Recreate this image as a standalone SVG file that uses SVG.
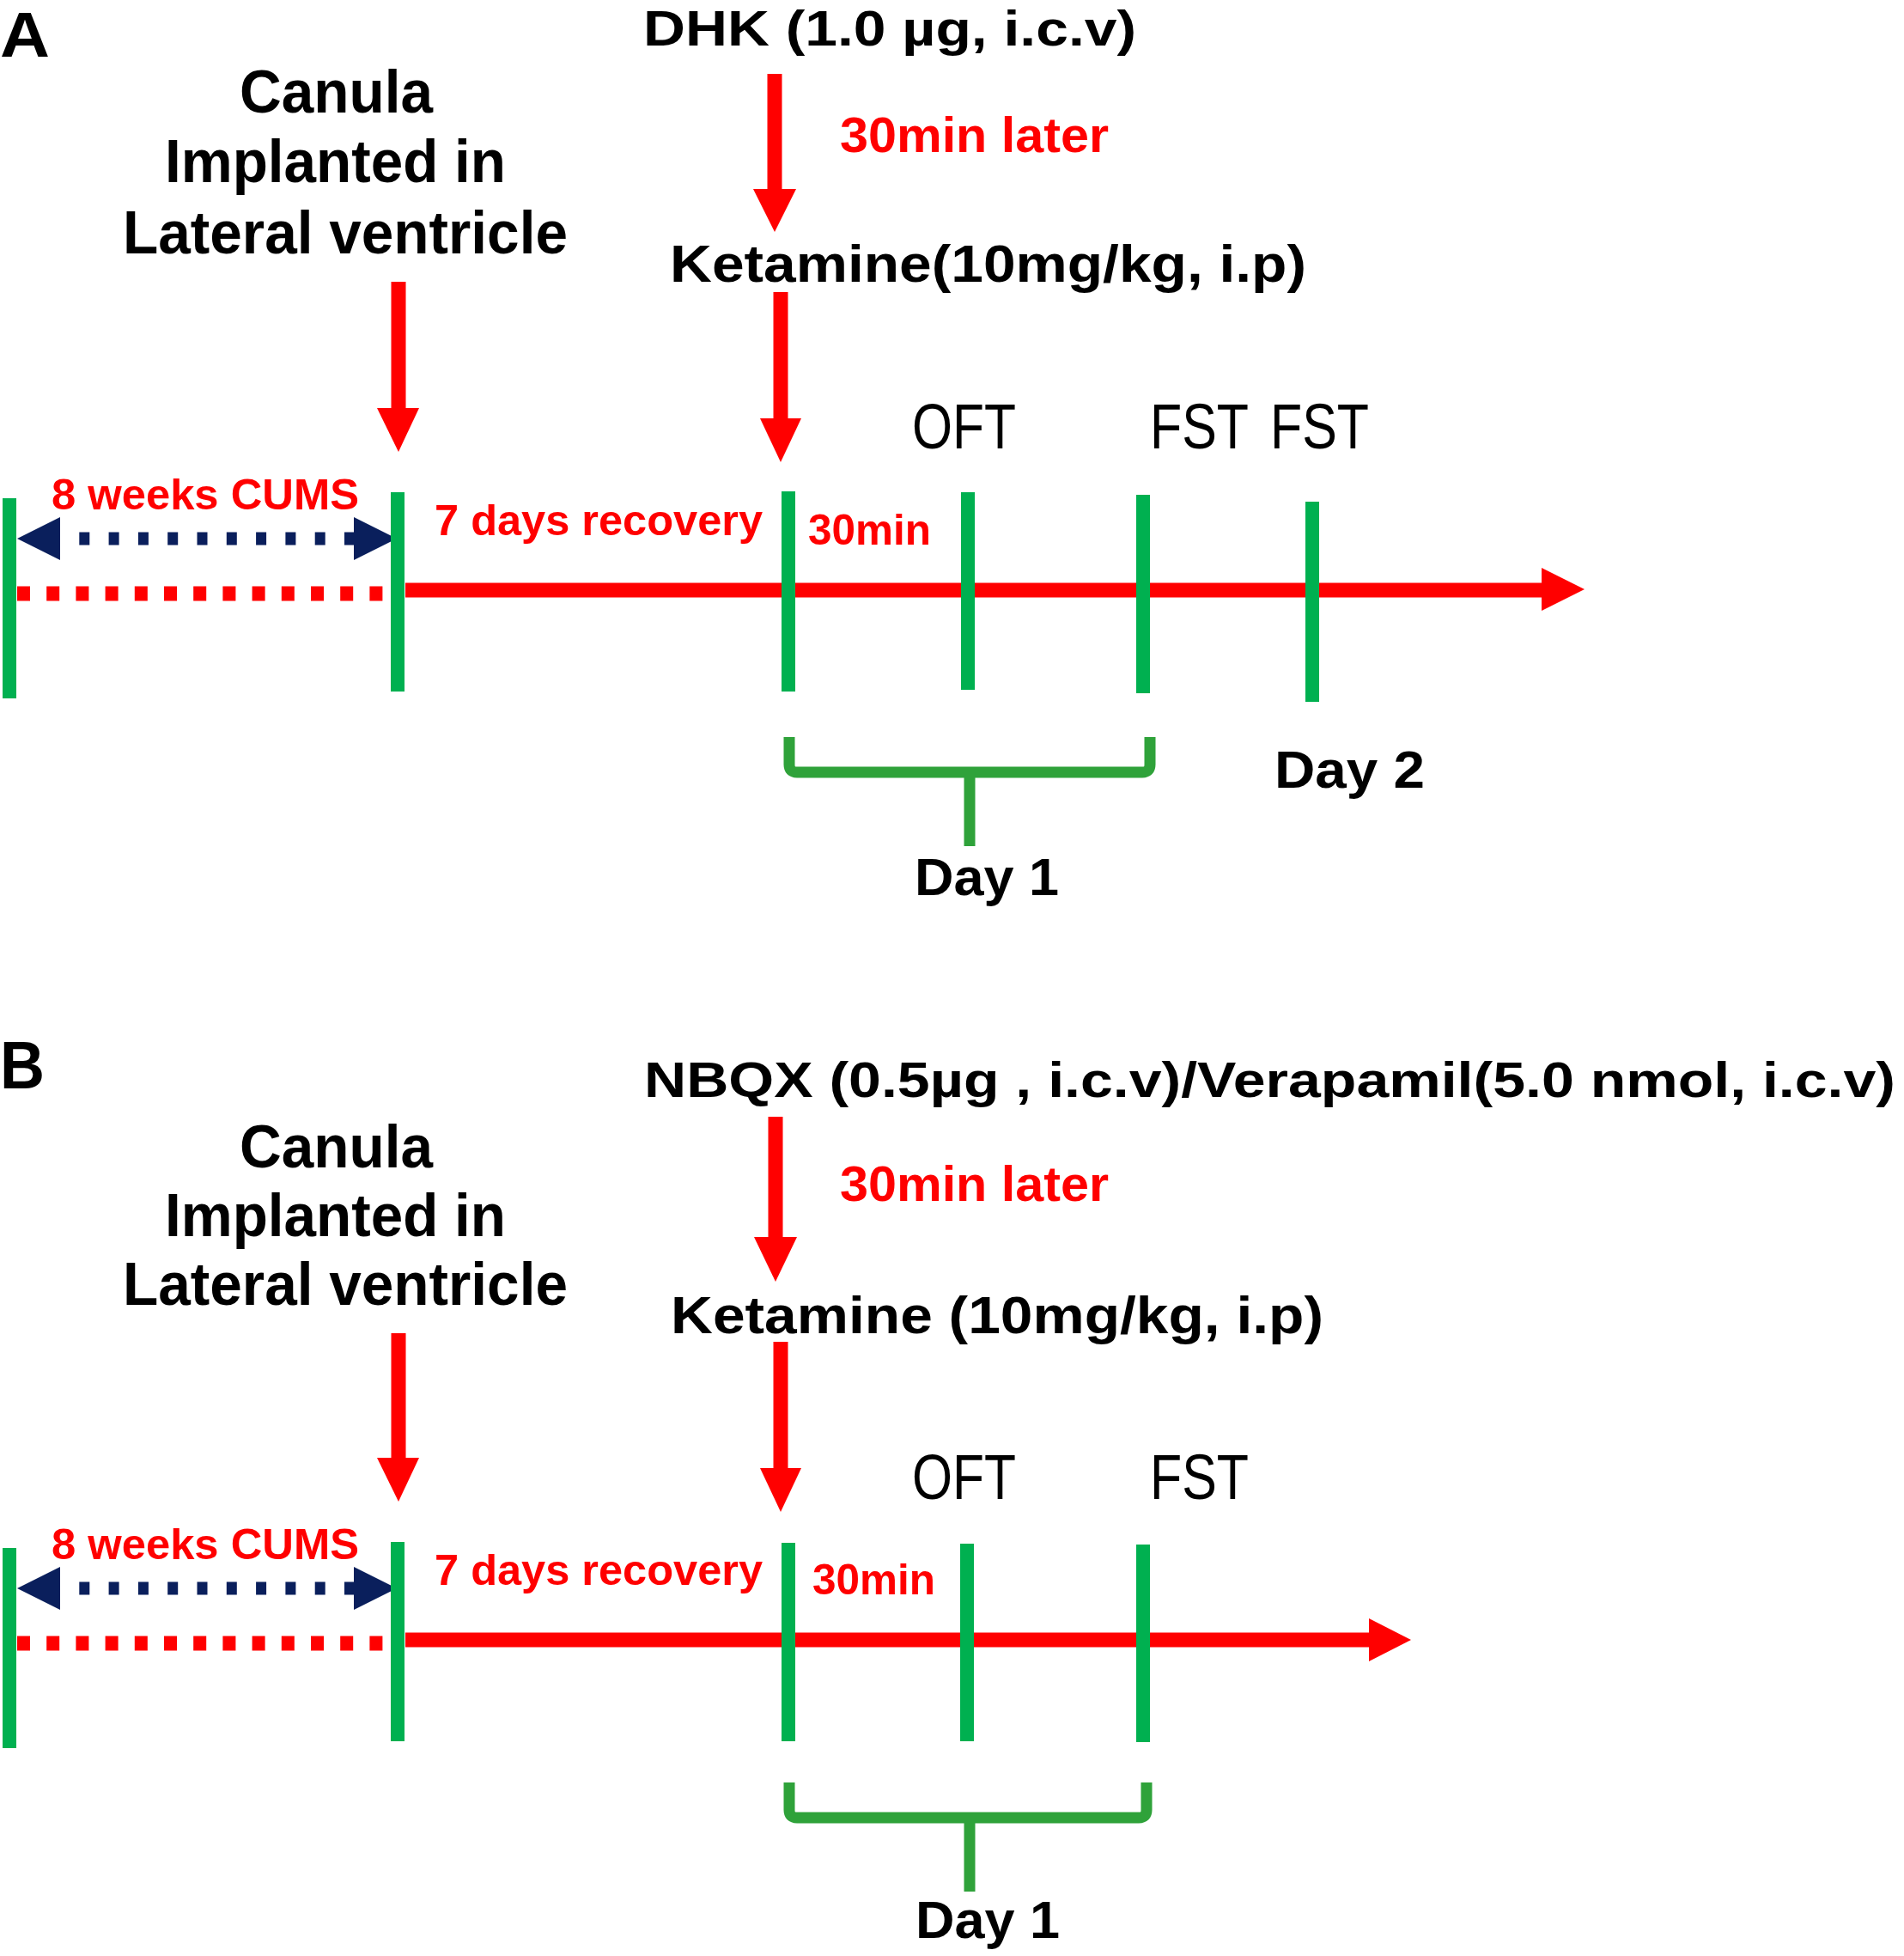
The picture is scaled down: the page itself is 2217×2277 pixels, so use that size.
<svg xmlns="http://www.w3.org/2000/svg" width="2217" height="2277" viewBox="0 0 2217 2277">
<style>
  text { font-family: "Liberation Sans", Arial, sans-serif; font-weight: bold; fill: #000; }
  .red { fill: #FF0000; }
  .reg { font-weight: normal; }
  .tick { stroke: #00B050; stroke-width: 16; fill: none; }
  .brk { stroke: #2FA23A; stroke-width: 13; fill: none; stroke-linejoin: round; }
  .rl { stroke: #FF0000; stroke-width: 17; fill: none; }
  .rf { fill: #FF0000; }
  .nv { stroke: #0A1F5C; stroke-width: 15; fill: none; stroke-dasharray: 12 22.3; }
  .nf { fill: #0A1F5C; }
</style>
<rect width="2217" height="2277" fill="#fff"/>

<!-- Panel A -->
<g id="panelA">
  <text id="labelA" x="0" y="66" font-size="74" textLength="58" lengthAdjust="spacingAndGlyphs">A</text>
  <g id="A-canula">
    <text x="279" y="131" font-size="71" textLength="225" lengthAdjust="spacingAndGlyphs">Canula</text>
    <text x="192" y="212" font-size="71" textLength="397" lengthAdjust="spacingAndGlyphs">Implanted in</text>
    <text x="143" y="295" font-size="71" textLength="518" lengthAdjust="spacingAndGlyphs">Lateral ventricle</text>
  </g>
  <g id="A-dhk"><text x="749" y="53" font-size="58" textLength="574" lengthAdjust="spacingAndGlyphs">DHK (1.0 µg, i.c.v)</text></g>
  <g id="A-30later"><text class="red" x="978" y="177" font-size="58" textLength="313" lengthAdjust="spacingAndGlyphs">30min later</text></g>
  <g id="A-ketamine"><text x="780" y="328" font-size="62" textLength="741" lengthAdjust="spacingAndGlyphs">Ketamine(10mg/kg, i.p)</text></g>
  <g id="A-cums"><text class="red" x="60" y="593" font-size="50" textLength="358" lengthAdjust="spacingAndGlyphs">8 weeks CUMS</text></g>
  <g id="A-recovery"><text class="red" x="506" y="623" font-size="50" textLength="382" lengthAdjust="spacingAndGlyphs">7 days recovery</text></g>
  <g id="A-30min"><text class="red" x="941" y="634" font-size="50" textLength="143" lengthAdjust="spacingAndGlyphs">30min</text></g>
  <g id="A-oft"><text class="reg" x="1062" y="522" font-size="75" textLength="121" lengthAdjust="spacingAndGlyphs">OFT</text></g>
  <g id="A-fst1"><text class="reg" x="1339" y="522" font-size="75" textLength="115" lengthAdjust="spacingAndGlyphs">FST</text></g>
  <g id="A-fst2"><text class="reg" x="1479" y="522" font-size="75" textLength="115" lengthAdjust="spacingAndGlyphs">FST</text></g>
  <g id="A-day1"><text x="1065" y="1042" font-size="62" textLength="168" lengthAdjust="spacingAndGlyphs">Day 1</text></g>
  <g id="A-day2"><text x="1484" y="917" font-size="62" textLength="175" lengthAdjust="spacingAndGlyphs">Day 2</text></g>

  <g id="A-connectors">
    <line class="rl" x1="902" y1="86" x2="902" y2="222" stroke-width="20"/>
    <polygon class="rf" points="877,220 927,220 902,270"/>
    <line class="rl" x1="464" y1="328" x2="464" y2="477" stroke-width="18"/>
    <polygon class="rf" points="439,475 488,475 464,526"/>
    <line class="rl" x1="909" y1="340" x2="909" y2="489" stroke-width="18"/>
    <polygon class="rf" points="885,487 933,487 909,538"/>
    <line class="rl" x1="20" y1="691" x2="446" y2="691" stroke-dasharray="15 19.2"/>
    <line class="rl" x1="472" y1="687" x2="1800" y2="687"/>
    <polygon class="rf" points="1795,661 1845,686 1795,711"/>
    <line class="nv" x1="58" y1="627" x2="412" y2="627"/>
    <polygon class="nf" points="20,627 70,602 70,652"/>
    <polygon class="nf" points="462,627 412,602 412,652"/>
    <line class="tick" x1="11" y1="580" x2="11" y2="813"/>
    <line class="tick" x1="463" y1="573" x2="463" y2="805"/>
    <line class="tick" x1="918" y1="572" x2="918" y2="805"/>
    <line class="tick" x1="1127" y1="573" x2="1127" y2="803"/>
    <line class="tick" x1="1331" y1="576" x2="1331" y2="807"/>
    <line class="tick" x1="1528" y1="584" x2="1528" y2="817"/>
    <path class="brk" d="M919,858 V890 Q919,899 928,899 H1330 Q1339,899 1339,890 V858"/>
    <path class="brk" d="M1129,899 V985"/>
  </g>
</g>

<!-- Panel B -->
<g id="panelB" transform="translate(0,1222)">
  <text id="labelB" x="0" y="45" font-size="78" textLength="52" lengthAdjust="spacingAndGlyphs">B</text>
  <g id="B-canula">
    <text x="279" y="137" font-size="71" textLength="225" lengthAdjust="spacingAndGlyphs">Canula</text>
    <text x="192" y="217" font-size="71" textLength="397" lengthAdjust="spacingAndGlyphs">Implanted in</text>
    <text x="143" y="297" font-size="71" textLength="518" lengthAdjust="spacingAndGlyphs">Lateral ventricle</text>
  </g>
  <g id="B-nbqx"><text x="750" y="55" font-size="58" textLength="1457" lengthAdjust="spacingAndGlyphs">NBQX (0.5µg , i.c.v)/Verapamil(5.0 nmol, i.c.v)</text></g>
  <g id="B-30later"><text class="red" x="978" y="176" font-size="58" textLength="313" lengthAdjust="spacingAndGlyphs">30min later</text></g>
  <g id="B-ketamine"><text x="781" y="330" font-size="62" textLength="760" lengthAdjust="spacingAndGlyphs">Ketamine (10mg/kg, i.p)</text></g>
  <g id="B-cums"><text class="red" x="60" y="593" font-size="50" textLength="358" lengthAdjust="spacingAndGlyphs">8 weeks CUMS</text></g>
  <g id="B-recovery"><text class="red" x="506" y="623" font-size="50" textLength="382" lengthAdjust="spacingAndGlyphs">7 days recovery</text></g>
  <g id="B-30min"><text class="red" x="946" y="634" font-size="50" textLength="143" lengthAdjust="spacingAndGlyphs">30min</text></g>
  <g id="B-oft"><text class="reg" x="1062" y="523" font-size="75" textLength="121" lengthAdjust="spacingAndGlyphs">OFT</text></g>
  <g id="B-fst"><text class="reg" x="1339" y="523" font-size="75" textLength="115" lengthAdjust="spacingAndGlyphs">FST</text></g>
  <g id="B-day1"><text x="1066" y="1034" font-size="62" textLength="168" lengthAdjust="spacingAndGlyphs">Day 1</text></g>

  <g id="B-connectors">
    <line class="rl" x1="903" y1="78" x2="903" y2="220" stroke-width="20"/>
    <polygon class="rf" points="878,218 928,218 903,270"/>
    <line class="rl" x1="464" y1="330" x2="464" y2="477" stroke-width="18"/>
    <polygon class="rf" points="439,475 488,475 464,526"/>
    <line class="rl" x1="909" y1="340" x2="909" y2="489" stroke-width="18"/>
    <polygon class="rf" points="885,487 933,487 909,538"/>
    <line class="rl" x1="20" y1="691" x2="446" y2="691" stroke-dasharray="15 19.2"/>
    <line class="rl" x1="472" y1="687" x2="1598" y2="687"/>
    <polygon class="rf" points="1594,662 1643,687 1594,712"/>
    <line class="nv" x1="58" y1="627" x2="412" y2="627"/>
    <polygon class="nf" points="20,627 70,602 70,652"/>
    <polygon class="nf" points="462,627 412,602 412,652"/>
    <line class="tick" x1="11" y1="580" x2="11" y2="813"/>
    <line class="tick" x1="463" y1="573" x2="463" y2="805"/>
    <line class="tick" x1="918" y1="574" x2="918" y2="805"/>
    <line class="tick" x1="1126" y1="575" x2="1126" y2="805"/>
    <line class="tick" x1="1331" y1="576" x2="1331" y2="806"/>
    <path class="brk" d="M919,853 V885 Q919,894 928,894 H1326 Q1335,894 1335,885 V853"/>
    <path class="brk" d="M1129,894 V980"/>
  </g>
</g>
</svg>
